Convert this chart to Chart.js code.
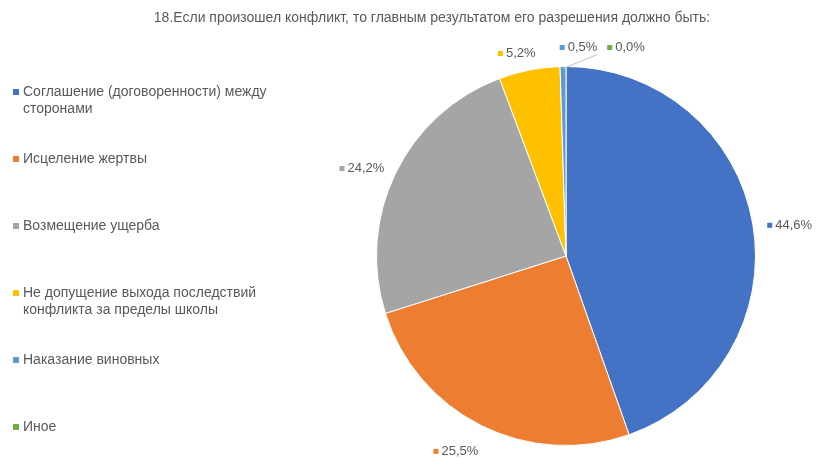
<!DOCTYPE html>
<html lang="ru">
<head>
<meta charset="utf-8">
<title>18. Результат разрешения конфликта</title>
<script src="https://cdn.jsdelivr.net/npm/chart.js@4.4.1/dist/chart.umd.min.js"></script>
<style>
  html, body { margin: 0; padding: 0; background: #fff; }
  #wrap { width: 817px; height: 459px; }
</style>
</head>
<body>
<div id="wrap"><canvas id="pie" width="817" height="459"></canvas></div>
<script>
/* ---------------- Data ---------------- */
const TITLE = "18.Если произошел конфликт, то главным результатом его разрешения должно быть:";
const CATEGORIES = [
  ["Соглашение (договоренности) между", "сторонами"],
  ["Исцеление жертвы"],
  ["Возмещение ущерба"],
  ["Не допущение выхода последствий", "конфликта за пределы школы"],
  ["Наказание виновных"],
  ["Иное"],
];
const VALUES = [44.6, 25.5, 24.2, 5.2, 0.5, 0.0];

/* ---------------- Style ---------------- */
const COLORS = ["#4472C4", "#ED7D31", "#A5A5A5", "#FFC000", "#5B9BD5", "#70AD47"];
const TEXT = "#595959";
const FONT = '"Liberation Sans", Arial, sans-serif';
// label nudges (dx, dy); tiny slices crowd the top and get pushed aside
const LABEL_NUDGE = { 1: [-9, 1], 3: [-6, 0], 4: [16, -2], 5: [60, -2] };

const fmtPct = v => v.toFixed(1).replace(".", ",") + "%";

/* ---------------- Plugins ---------------- */
const decor = {
  id: "decor",
  afterDraw(chart){
    const ctx = chart.ctx;
    ctx.save();
    ctx.textBaseline = "middle";

    // title
    ctx.font = `14px ${FONT}`;
    ctx.fillStyle = TEXT;
    ctx.textAlign = "center";
    ctx.fillText(TITLE, 432, 18);

    // legend on the left
    ctx.textAlign = "left";
    CATEGORIES.forEach((lines, i)=>{
      const y = 92 + i * 67;
      ctx.fillStyle = COLORS[i];
      ctx.fillRect(13, y - 3, 6, 6);
      ctx.fillStyle = TEXT;
      lines.forEach((ln, k)=> ctx.fillText(ln, 23, y + k * 17));
    });

    // outside-end data labels
    const meta = chart.getDatasetMeta(0);
    ctx.font = `13px ${FONT}`;
    meta.data.forEach((arc, i)=>{
      const { x: cx, y: cy, startAngle, endAngle, outerRadius } = arc.getProps(["x","y","startAngle","endAngle","outerRadius"], true);
      const mid = (startAngle + endAngle) / 2;
      const dx = Math.cos(mid), dy = Math.sin(mid);
      const ax = cx + dx * (outerRadius + 15), ay = cy + dy * (outerRadius + 15);
      const txt = fmtPct(VALUES[i]);
      const w = 8 + ctx.measureText(txt).width, h = 14;
      let left = ax - w * (1 - dx) / 2;
      let top = ay - h * (1 - dy) / 2 + 5;
      const nudge = LABEL_NUDGE[i];
      if (nudge){ left += nudge[0]; top += nudge[1]; }
      if (nudge && i >= 4 && VALUES[i] > 0){
        ctx.strokeStyle = "#BFBFBF";
        ctx.lineWidth = 1;
        ctx.beginPath();
        ctx.moveTo(cx + dx * (outerRadius - 2), cy + dy * (outerRadius - 2));
        ctx.lineTo(left + w, top + h);
        ctx.stroke();
      }
      const my = top + h / 2;
      ctx.fillStyle = COLORS[i];
      ctx.fillRect(left, my - 2.5, 5, 5);
      ctx.fillStyle = TEXT;
      ctx.fillText(txt, left + 8, my);
    });
    ctx.restore();
  }
};

/* ---------------- Chart ---------------- */
new Chart(document.getElementById("pie").getContext("2d"), {
  type: "pie",
  data: {
    labels: CATEGORIES.map(l => l.join(" ")),
    datasets: [{
      data: VALUES,
      backgroundColor: COLORS,
      borderColor: "#ffffff",
      borderWidth: 1,
    }]
  },
  options: {
    responsive: false,
    animation: false,
    layout: { padding: { left: 376, right: 61, top: 66, bottom: 13 } },
    plugins: {
      legend: { display: false },
      title: { display: false },
      tooltip: { enabled: false },
    }
  },
  plugins: [decor]
});
</script>
</body>
</html>
